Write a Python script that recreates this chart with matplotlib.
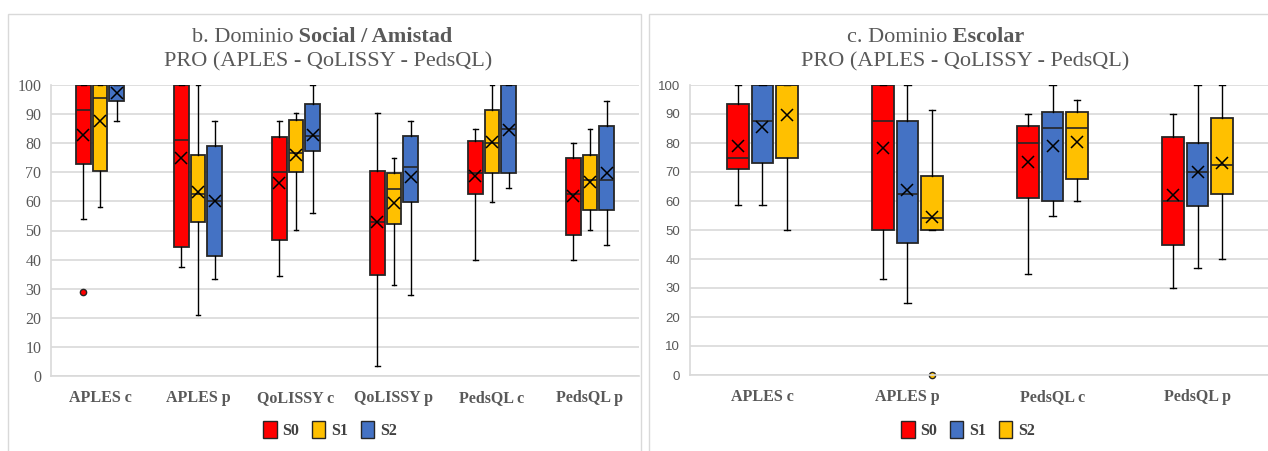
import matplotlib.pyplot as plt
from matplotlib.patches import Rectangle, Patch

# ---- data ----
cats_b = ['APLES c', 'APLES p', 'QoLISSY c', 'QoLISSY p', 'PedsQL c', 'PedsQL p']

b_s0_q1 = [72.8, 44.5, 46.8, 34.7, 62.5, 48.4]
b_s0_med = [91.4, 81.0, 70.1, 52.9, 69.6, 62.5]
b_s0_q3 = [100, 100, 82.1, 70.6, 80.8, 74.9]
b_s0_lo = [53.9, 37.6, 34.3, 3.3, 39.8, 39.8]
b_s0_hi = [100, 100, 87.5, 90.3, 84.9, 79.9]
b_s0_mean = [82.7, 75.0, 66.3, 52.8, 68.9, 62.0]
b_s0_out = [[29.0], [], [], [], [], []]

b_s1_q1 = [70.6, 52.8, 70.1, 52.2, 69.6, 57.1]
b_s1_med = [95.6, 62.5, 76.6, 64.2, 79.9, 67.3]
b_s1_q3 = [100, 76.1, 88.1, 69.6, 91.4, 76.1]
b_s1_lo = [58.1, 20.8, 50.1, 31.1, 59.7, 50.1]
b_s1_hi = [100, 100, 90.3, 75.0, 100, 84.9]
b_s1_mean = [87.5, 63.1, 76.0, 59.3, 80.4, 66.7]
b_s1_out = [[], [], [], [], [], []]

b_s2_q1 = [94.5, 41.2, 77.2, 59.9, 69.6, 57.1]
b_s2_med = [100, 60.3, 82.6, 71.8, 84.9, 67.3]
b_s2_q3 = [100, 78.9, 93.5, 82.6, 100, 85.8]
b_s2_lo = [87.5, 33.3, 56.0, 27.9, 64.7, 45.1]
b_s2_hi = [100, 87.5, 100, 87.5, 100, 94.6]
b_s2_mean = [97.1, 60.2, 82.7, 68.3, 84.7, 69.6]
b_s2_out = [[], [], [], [], [], []]

cats_c = ['APLES c', 'APLES p', 'PedsQL c', 'PedsQL p']

c_s0_q1 = [70.9, 49.9, 61.1, 44.8]
c_s0_med = [74.7, 87.6, 80.1, 60.1]
c_s0_q3 = [93.4, 100, 86.0, 82.2]
c_s0_lo = [58.5, 33.1, 34.7, 29.9]
c_s0_hi = [100, 100, 89.9, 89.9]
c_s0_mean = [79.0, 78.4, 73.4, 62.1]
c_s0_out = [[], [], [], []]

c_s1_q1 = [73.0, 45.5, 60.1, 58.4]
c_s1_med = [87.6, 62.3, 85.1, 69.9]
c_s1_q3 = [100, 87.6, 90.8, 80.0]
c_s1_lo = [58.5, 24.9, 54.7, 36.8]
c_s1_hi = [100, 100, 100, 100]
c_s1_mean = [85.4, 63.8, 79.0, 70.1]
c_s1_out = [[], [], [], []]

c_s2_q1 = [74.7, 49.9, 67.6, 62.3]
c_s2_med = [100, 54.0, 85.1, 72.5]
c_s2_q3 = [100, 68.7, 90.8, 88.7]
c_s2_lo = [49.9, 49.9, 60.0, 40.0]
c_s2_hi = [100, 91.5, 94.8, 100]
c_s2_mean = [89.8, 54.6, 80.5, 73.0]
c_s2_out = [[], [0.0], [], []]

names = ['S0', 'S1', 'S2']
RED, YEL, BLU = '#FF0000', '#FFC000', '#4472C4'
GRAY = '#595959'
SERIF = 'Liberation Serif'

W, H = 1268, 451
fig = plt.figure(figsize=(W / 100, H / 100), dpi=100)


def fx(x):
    return x / W


def fy(y):
    return 1 - y / H


def make_stats(q1, med, q3, lo, hi, mean, out):
    return [dict(q1=a, med=b, q3=c, whislo=d, whishi=e, mean=f, fliers=g)
            for a, b, c, d, e, f, g in zip(q1, med, q3, lo, hi, mean, out)]


def draw_panel(ax, cats, series, colors, tick_font, tick_size):
    for i, (st, col) in enumerate(zip(series, colors)):
        pos = [j + (i - 1) * 0.17 for j in range(len(cats))]
        ax.bxp(st, positions=pos, widths=0.15, patch_artist=True,
               showmeans=True, capwidths=0.045, manage_ticks=False,
               boxprops=dict(facecolor=col, edgecolor='#262626', linewidth=1.3),
               medianprops=dict(color='#262626', linewidth=1.2),
               whiskerprops=dict(color='black', linewidth=1),
               capprops=dict(color='black', linewidth=1),
               meanprops=dict(marker='x', markeredgecolor='black',
                              markersize=8, markeredgewidth=1.1),
               flierprops=dict(marker='o', markerfacecolor=col,
                               markeredgecolor='#262626', markersize=4.5,
                               clip_on=False))
    ax.set_xlim(-0.5, len(cats) - 0.5)
    ax.set_ylim(0, 100)
    ax.set_yticks(range(0, 101, 10))
    ax.set_xticks(range(len(cats)))
    ax.set_xticklabels(cats, fontfamily=SERIF, fontweight='bold',
                       fontsize=11.5, color=GRAY)
    for lab in ax.get_yticklabels():
        lab.set_fontfamily(tick_font)
        lab.set_fontsize(tick_size)
        lab.set_color(GRAY)
    ax.tick_params(axis='both', length=0)
    ax.tick_params(axis='x', pad=10)
    ax.tick_params(axis='y', pad=7)
    ax.yaxis.grid(True, color='#d9d9d9', linewidth=1.2)
    ax.set_axisbelow(True)
    for s in ['top', 'right']:
        ax.spines[s].set_visible(False)
    for s in ['left', 'bottom']:
        ax.spines[s].set_color('#d9d9d9')
        ax.spines[s].set_linewidth(1.2)


# panel frames
fig.patches.append(Rectangle((fx(8), -0.1), fx(641) - fx(8), fy(14) + 0.1,
                             transform=fig.transFigure, fill=False,
                             edgecolor='#d9d9d9', linewidth=1))
fig.patches.append(Rectangle((fx(649), -0.1), 0.6, fy(14) + 0.1,
                             transform=fig.transFigure, fill=False,
                             edgecolor='#d9d9d9', linewidth=1))

# left panel
ax1 = fig.add_axes([fx(51), fy(376), fx(639) - fx(51), fy(85) - fy(376)])
ser_b = [make_stats(b_s0_q1, b_s0_med, b_s0_q3, b_s0_lo, b_s0_hi, b_s0_mean, b_s0_out),
         make_stats(b_s1_q1, b_s1_med, b_s1_q3, b_s1_lo, b_s1_hi, b_s1_mean, b_s1_out),
         make_stats(b_s2_q1, b_s2_med, b_s2_q3, b_s2_lo, b_s2_hi, b_s2_mean, b_s2_out)]
draw_panel(ax1, cats_b, ser_b, [RED, YEL, BLU], SERIF, 11.5)

# right panel
ax2 = fig.add_axes([fx(690), fy(375), fx(1270) - fx(690), fy(85) - fy(375)])
ser_c = [make_stats(c_s0_q1, c_s0_med, c_s0_q3, c_s0_lo, c_s0_hi, c_s0_mean, c_s0_out),
         make_stats(c_s1_q1, c_s1_med, c_s1_q3, c_s1_lo, c_s1_hi, c_s1_mean, c_s1_out),
         make_stats(c_s2_q1, c_s2_med, c_s2_q3, c_s2_lo, c_s2_hi, c_s2_mean, c_s2_out)]
draw_panel(ax2, cats_c, ser_c, [RED, BLU, YEL], 'Liberation Sans', 9.5)

# titles
fig.text(fx(293), fy(42), 'b. Dominio', ha='right', va='baseline',
         fontfamily=SERIF, fontsize=16, color=GRAY)
fig.text(fx(293), fy(42), ' Social / Amistad', ha='left', va='baseline',
         fontfamily=SERIF, fontsize=16, fontweight='bold', color=GRAY)
fig.text(fx(328), fy(66.5), 'PRO (APLES - QoLISSY - PedsQL)', ha='center',
         va='baseline', fontfamily=SERIF, fontsize=16, color=GRAY)

fig.text(fx(947), fy(42), 'c. Dominio', ha='right', va='baseline',
         fontfamily=SERIF, fontsize=16, color=GRAY)
fig.text(fx(947), fy(42), ' Escolar', ha='left', va='baseline',
         fontfamily=SERIF, fontsize=16, fontweight='bold', color=GRAY)
fig.text(fx(965), fy(66.5), 'PRO (APLES - QoLISSY - PedsQL)', ha='center',
         va='baseline', fontfamily=SERIF, fontsize=16, color=GRAY)

# legends
leg_font = dict(family=SERIF, weight='bold', size=11.5)
for cols, cx in [([RED, YEL, BLU], 330), ([RED, BLU, YEL], 968)]:
    handles = [Patch(facecolor=c, edgecolor='#262626', linewidth=1) for c in cols]
    leg = fig.legend(handles, names, loc='center', bbox_to_anchor=(fx(cx), fy(430)),
                     ncol=3, frameon=False, handlelength=0.85, handleheight=1.2,
                     handletextpad=0.35, columnspacing=0.8, prop=leg_font)
    for t in leg.get_texts():
        t.set_color('#404040')

fig.savefig('out.png', dpi=100)
